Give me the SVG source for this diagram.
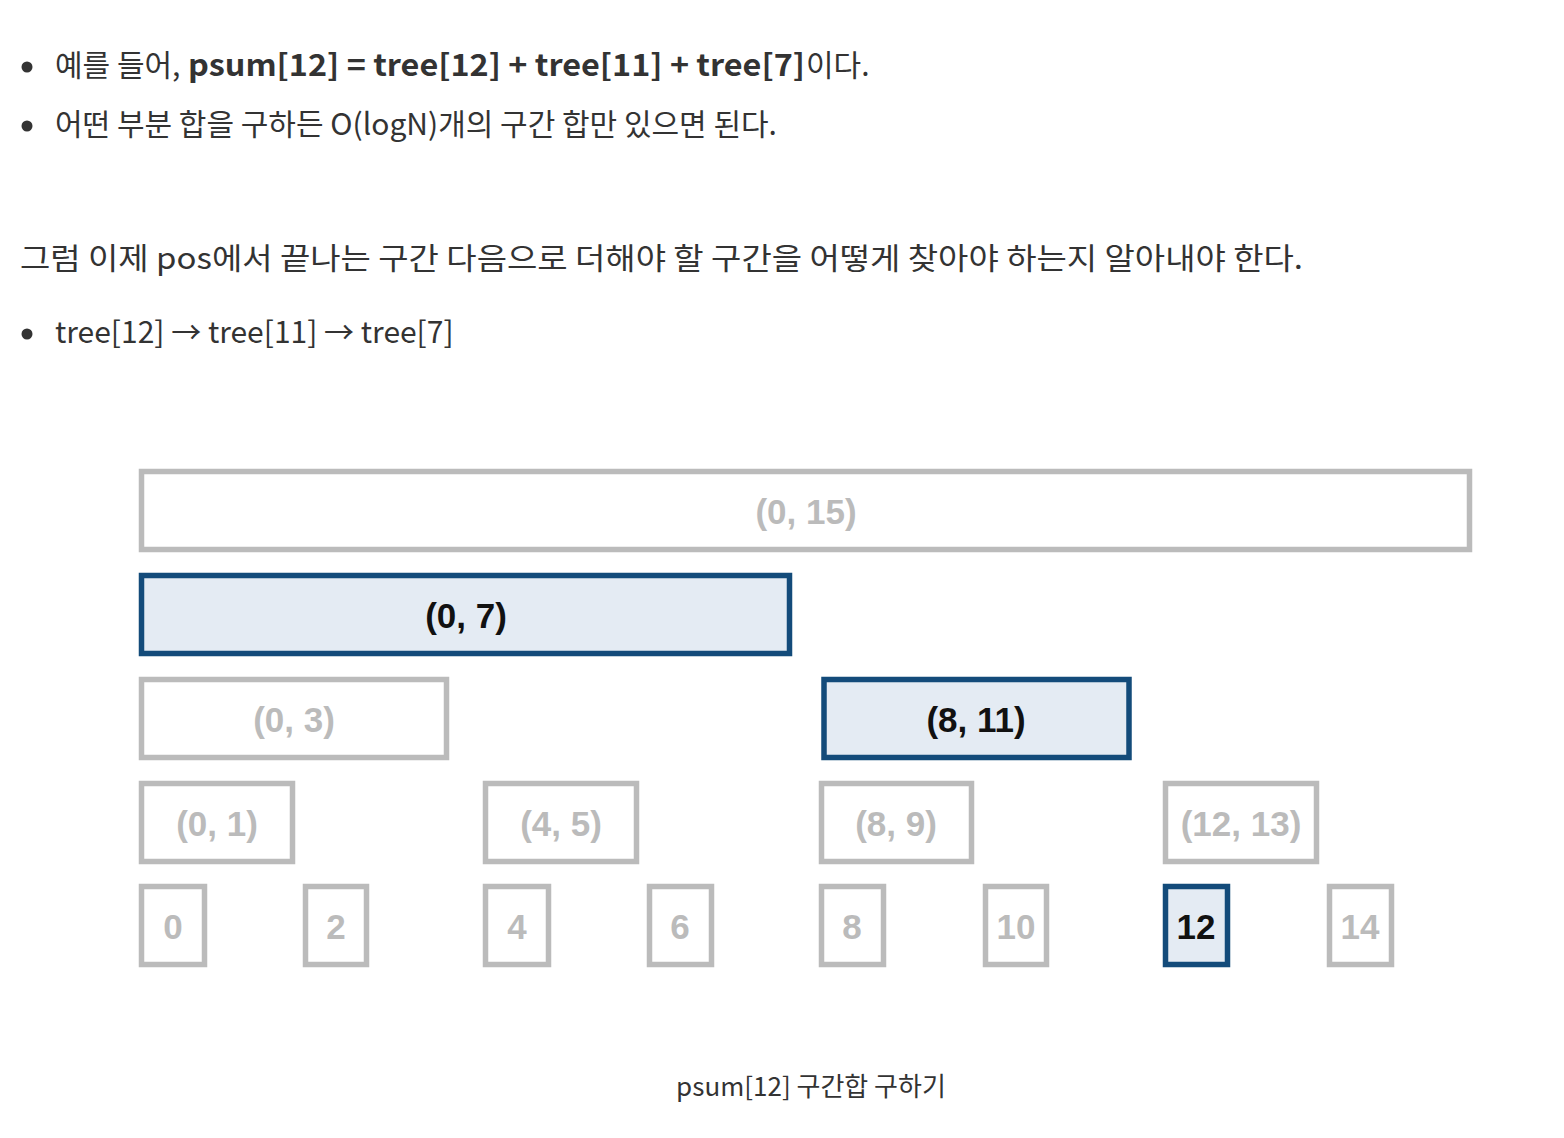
<svg xmlns="http://www.w3.org/2000/svg" width="1564" height="1138" viewBox="0 0 1564 1138">
<style>
  .body { font-family: "Noto Sans CJK KR", "Noto Sans", sans-serif; fill: #333333; font-size: 30px; }
  .b { font-weight: bold; }
  .cap { font-family: "Noto Sans CJK KR", "Noto Sans", sans-serif; fill: #333333; font-size: 26px; }
  .off rect { fill: #ffffff; stroke: #bbbbbb; stroke-width: 5.5; }
  .on rect { fill: #e4ebf3; stroke: #134b7a; stroke-width: 5.5; }
  .lbl { font-family: "Liberation Sans", Arial, Helvetica, sans-serif; font-weight: bold; font-size: 35px; text-anchor: middle; }
  .off text { fill: #bbbbbb; }
  .on text { fill: #111111; }
</style>
<rect width="1564" height="1138" fill="#ffffff"/>

<g id="text">
  <circle cx="27" cy="67" r="5.5" fill="#333333"/>
  <text class="body" x="55" y="76">예를 들어,</text>
  <text class="body b" x="188" y="76" textLength="617" lengthAdjust="spacingAndGlyphs">psum[12] = tree[12] + tree[11] + tree[7]</text>
  <text class="body" x="806" y="76">이다.</text>
  <circle cx="27" cy="126" r="5.5" fill="#333333"/>
  <text class="body" x="55" y="135">어떤 부분 합을 구하든 O(logN)개의 구간 합만 있으면 된다.</text>
  <text class="body" x="20" y="269" textLength="1283" lengthAdjust="spacingAndGlyphs">그럼 이제 pos에서 끝나는 구간 다음으로 더해야 할 구간을 어떻게 찾아야 하는지 알아내야 한다.</text>
  <circle cx="27" cy="334" r="5.5" fill="#333333"/>
  <text class="body" x="55" y="343">tree[12] → tree[11] → tree[7]</text>
</g>

<g id="n0_15" class="off"><rect x="141.5" y="471.5" width="1328" height="78"/><text class="lbl" x="806" y="524">(0, 15)</text></g>
<g id="n0_7" class="on"><rect x="141.5" y="575.5" width="648" height="78"/><text class="lbl" x="466" y="628">(0, 7)</text></g>
<g id="n0_3" class="off"><rect x="141.5" y="679.5" width="305" height="78"/><text class="lbl" x="294" y="732">(0, 3)</text></g>
<g id="n8_11" class="on"><rect x="824" y="679.5" width="305" height="78"/><text class="lbl" x="976" y="732">(8, 11)</text></g>
<g id="n0_1" class="off"><rect x="141.5" y="783.5" width="151" height="78"/><text class="lbl" x="217" y="836">(0, 1)</text></g>
<g id="n4_5" class="off"><rect x="485.5" y="783.5" width="151" height="78"/><text class="lbl" x="561" y="836">(4, 5)</text></g>
<g id="n8_9" class="off"><rect x="821.5" y="783.5" width="150" height="78"/><text class="lbl" x="896" y="836">(8, 9)</text></g>
<g id="n12_13" class="off"><rect x="1165.5" y="783.5" width="151" height="78"/><text class="lbl" x="1241" y="836">(12, 13)</text></g>
<g id="n0" class="off"><rect x="141.5" y="886.5" width="63" height="78"/><text class="lbl" x="173" y="939">0</text></g>
<g id="n2" class="off"><rect x="305.5" y="886.5" width="61" height="78"/><text class="lbl" x="336" y="939">2</text></g>
<g id="n4" class="off"><rect x="485.5" y="886.5" width="63" height="78"/><text class="lbl" x="517" y="939">4</text></g>
<g id="n6" class="off"><rect x="649.5" y="886.5" width="62" height="78"/><text class="lbl" x="680" y="939">6</text></g>
<g id="n8" class="off"><rect x="821.5" y="886.5" width="62" height="78"/><text class="lbl" x="852" y="939">8</text></g>
<g id="n10" class="off"><rect x="985.5" y="886.5" width="61" height="78"/><text class="lbl" x="1016" y="939">10</text></g>
<g id="n12" class="on"><rect x="1165.5" y="886.5" width="62" height="78"/><text class="lbl" x="1196" y="939">12</text></g>
<g id="n14" class="off"><rect x="1329.5" y="886.5" width="62" height="78"/><text class="lbl" x="1360" y="939">14</text></g>

<g id="connectors"></g>

<text class="cap" x="811" y="1096" text-anchor="middle">psum[12] 구간합 구하기</text>
</svg>
